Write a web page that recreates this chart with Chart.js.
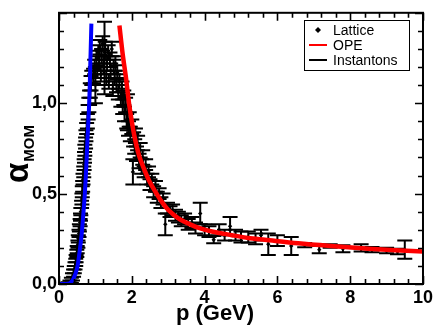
<!DOCTYPE html>
<html><head><meta charset="utf-8">
<script src="https://cdn.jsdelivr.net/npm/chart.js@4.4.0/dist/chart.umd.min.js"></script>
<style>html,body{margin:0;padding:0;background:#fff;}#wrap{width:436px;height:325px;}</style>
</head><body><div id="wrap"><canvas id="c" width="436" height="325"></canvas></div>
<script>
// ---- data ----
const latticeP = [
 0.25,0.30,0.34,0.37,0.40,0.42,0.44,0.46,0.47,0.49,0.50,0.52,0.53,0.55,0.56,0.58,0.59,0.60,0.62,0.63,
 0.64,0.65,0.66,0.68,0.69,0.70,0.71,0.73,0.74,0.76,0.78,0.80,0.82,0.84,0.86,0.88,0.90,
 0.95,0.98,1.00,1.03,1.05,1.08,1.10,1.12,1.15,1.17,1.20,1.22,1.25,1.27,1.30,1.32,1.35,1.37,1.40,1.42,
 1.45,1.48,1.50,1.53,1.55,1.58,1.60,1.63,1.66,1.70,1.73,
 1.75,1.78,1.80,1.83,1.86,1.88,1.91,1.93,1.96,2.00,2.03,2.05,2.08,2.10,2.13,2.16,2.20,2.23,2.27,2.30,
 2.34,2.38,2.42,2.46,2.50,2.55,2.60,2.65,2.70,2.75,2.80,2.86,2.92,2.98,3.05,3.12,3.20,3.28,3.36,3.45,
 3.55,3.65,3.75,3.88,4.00,4.12,4.25,4.40,4.55,4.70,4.85,5.00,5.20,5.40,5.55,5.75,6.00,6.38,6.75,7.15,
 7.45,7.80,8.30,8.60,9.00,9.30,9.50];
const latticeAlpha = [
 0.00,0.01,0.02,0.04,0.06,0.08,0.10,0.12,0.14,0.17,0.19,0.22,0.25,0.28,0.31,0.34,0.37,0.40,0.44,0.47,
 0.51,0.54,0.58,0.62,0.66,0.70,0.74,0.78,0.82,0.86,0.90,0.95,0.99,1.03,1.07,1.11,1.14,
 1.15,1.20,1.10,1.25,1.18,1.28,1.22,1.31,1.16,1.26,1.33,1.20,1.25,1.30,1.14,1.22,1.28,1.12,1.24,1.18,
 1.30,1.08,1.20,1.14,1.22,1.10,1.17,1.06,1.12,1.02,1.08,
 0.98,1.03,0.94,0.99,0.90,0.95,0.86,0.91,0.83,0.87,0.62,0.80,0.76,0.82,0.72,0.78,0.68,0.74,0.65,0.70,
 0.62,0.66,0.58,0.62,0.55,0.58,0.51,0.54,0.48,0.50,0.45,0.47,0.33,0.42,0.40,0.41,0.38,0.37,0.35,0.36,
 0.33,0.34,0.31,0.39,0.30,0.29,0.245,0.30,0.27,0.32,0.27,0.26,0.26,0.25,0.27,0.22,0.24,0.21,0.215,0.19,
 0.21,0.195,0.20,0.19,0.185,0.18,0.19];
const latticeErr = [
 0.01,0.01,0.015,0.02,0.02,0.02,0.02,0.02,0.02,0.02,0.02,0.02,0.02,0.02,0.02,0.02,0.02,0.02,0.02,0.03,
 0.03,0.03,0.03,0.03,0.03,0.03,0.03,0.03,0.03,0.03,0.04,0.04,0.04,0.04,0.04,0.04,0.04,
 0.04,0.04,0.10,0.04,0.04,0.04,0.04,0.04,0.04,0.04,0.04,0.04,0.20,0.04,0.04,0.04,0.04,0.04,0.04,0.04,
 0.04,0.04,0.04,0.04,0.04,0.04,0.04,0.04,0.04,0.04,0.04,
 0.04,0.04,0.04,0.04,0.04,0.10,0.04,0.04,0.04,0.04,0.07,0.04,0.04,0.04,0.04,0.04,0.04,0.04,0.04,0.04,
 0.03,0.03,0.03,0.03,0.03,0.03,0.03,0.03,0.03,0.03,0.03,0.03,0.06,0.03,0.03,0.03,0.03,0.03,0.03,0.03,
 0.03,0.03,0.03,0.06,0.03,0.03,0.02,0.03,0.03,0.05,0.03,0.03,0.03,0.03,0.03,0.06,0.03,0.05,0.012,0.02,
 0.01,0.02,0.02,0.015,0.015,0.015,0.05];
const opeP = [1.66,1.75,1.84,1.93,2.07,2.20,2.35,2.48,2.65,2.84,3.00,3.30,3.60,3.84,4.20,4.75,5.20,5.66,6.57,7.47,8.50,10.0];
const opeAlpha = [1.43,1.27,1.14,0.99,0.82,0.71,0.63,0.57,0.51,0.45,0.41,0.36,0.33,0.31,0.29,0.27,0.255,0.245,0.225,0.21,0.195,0.18];
const instP = [0.00,0.20,0.30,0.40,0.50,0.56,0.62,0.67,0.71,0.75,0.78,0.83,0.86,0.89];
const instAlpha = [0.00,0.00,0.005,0.03,0.09,0.17,0.27,0.39,0.50,0.65,0.79,1.00,1.22,1.44];
const xTickValues = [0,2,4,6,8,10];
const xTickLabels = ['0','2','4','6','8','10'];
const yTickValues = [0,0.5,1.0];
const yTickLabels = ['0,0','0,5','1,0'];
const legendLabels = ['Lattice','OPE','Instantons'];
const xTitle = 'p (GeV)';

const FONT = "'Liberation Sans', Arial, Helvetica, sans-serif";
const toXY = (xs, ys) => xs.map((x,i)=>({x:x, y:ys[i]}));

const errorBars = {
  id:'errorBars',
  beforeDatasetsDraw(chart){
    const {ctx, scales:{x,y}, chartArea:a} = chart;
    ctx.save();
    ctx.beginPath(); ctx.rect(a.left,a.top,a.right-a.left,a.bottom-a.top); ctx.clip();
    ctx.strokeStyle='#000'; ctx.lineWidth=2;
    const cap=7.5;
    latticeP.forEach((p,i)=>{
      const px=x.getPixelForValue(p);
      const y1=y.getPixelForValue(latticeAlpha[i]+latticeErr[i]);
      const y0=y.getPixelForValue(latticeAlpha[i]-latticeErr[i]);
      ctx.beginPath();
      ctx.moveTo(px,y0); ctx.lineTo(px,y1);
      ctx.moveTo(px-cap,y0); ctx.lineTo(px+cap,y0);
      ctx.moveTo(px-cap,y1); ctx.lineTo(px+cap,y1);
      ctx.stroke();
    });
    ctx.restore();
  }
};

const frame = {
  id:'frame',
  afterDraw(chart){
    const {ctx, scales:{x,y}, chartArea:a} = chart;
    ctx.save();
    ctx.strokeStyle='#000'; ctx.lineWidth=2;
    ctx.strokeRect(a.left,a.top,a.right-a.left,a.bottom-a.top);
    ctx.lineWidth=1.6;
    ctx.beginPath();
    for(let v=0; v<=10.001; v+=0.4){
      const px=Math.round(x.getPixelForValue(v))+0.5;
      const major = Math.abs(v/2-Math.round(v/2))<1e-6;
      const L = major?8:5;
      ctx.moveTo(px,a.bottom); ctx.lineTo(px,a.bottom-L);
      ctx.moveTo(px,a.top); ctx.lineTo(px,a.top+L);
    }
    for(let v=0; v<=1.5001; v+=0.1){
      const py=Math.round(y.getPixelForValue(v))+0.5;
      const major = Math.abs(v/0.5-Math.round(v/0.5))<1e-6;
      const L = major?8:5;
      ctx.moveTo(a.left,py); ctx.lineTo(a.left+L,py);
      ctx.moveTo(a.right,py); ctx.lineTo(a.right-L,py);
    }
    ctx.stroke();
    // x axis title
    ctx.fillStyle='#000';
    ctx.font='bold 22px '+FONT; ctx.textAlign='center'; ctx.textBaseline='alphabetic';
    ctx.fillText(xTitle, 215, 320);
    // y axis title: alpha with subscript MOM, rotated
    ctx.rotate(-Math.PI/2);
    ctx.textAlign='left';
    ctx.font='bold 33px '+FONT;
    const aw=ctx.measureText('α').width;
    const startX=-183;
    ctx.fillText('α', startX, 28);
    ctx.font='bold 15px '+FONT;
    ctx.fillText('MOM', startX+aw+1, 34);
    ctx.setTransform(1,0,0,1,0,0);
    // legend
    const bx=304, by=20, bw=105, bh=50;
    ctx.fillStyle='#fff'; ctx.fillRect(bx,by,bw,bh);
    ctx.strokeStyle='#000'; ctx.lineWidth=1; ctx.strokeRect(bx+0.5,by+0.5,bw,bh);
    ctx.font='14px '+FONT; ctx.fillStyle='#000'; ctx.textBaseline='middle';
    const rows=[by+10, by+25, by+40];
    ctx.beginPath(); const dx=318, dy=rows[0];
    ctx.moveTo(dx,dy-3); ctx.lineTo(dx+3,dy); ctx.lineTo(dx,dy+3); ctx.lineTo(dx-3,dy); ctx.closePath(); ctx.fill();
    ctx.lineWidth=2;
    ctx.strokeStyle='#ff0000'; ctx.beginPath(); ctx.moveTo(309,rows[1]); ctx.lineTo(327,rows[1]); ctx.stroke();
    ctx.strokeStyle='#000'; ctx.beginPath(); ctx.moveTo(309,rows[2]); ctx.lineTo(327,rows[2]); ctx.stroke();
    legendLabels.forEach((t,i)=>ctx.fillText(t,333,rows[i]+1));
    ctx.restore();
  }
};

new Chart(document.getElementById('c'), {
  type:'scatter',
  data:{datasets:[
    {label:'Instantons', data:toXY(instP,instAlpha), showLine:true, borderColor:'#0000ff', borderWidth:4, pointRadius:0, fill:false, order:0, tension:0.3},
    {label:'OPE', data:toXY(opeP,opeAlpha), showLine:true, borderColor:'#ff0000', borderWidth:4.5, pointRadius:0, fill:false, order:1, tension:0.3},
    {label:'Lattice', data:toXY(latticeP,latticeAlpha), showLine:false, pointStyle:'rectRot', pointRadius:2.2, backgroundColor:'#000', borderColor:'#000', borderWidth:0, order:2}
  ]},
  options:{
    responsive:false, animation:false, devicePixelRatio:1,
    layout:{padding:{top:1,right:10,left:0,bottom:0}},
    plugins:{legend:{display:false}, tooltip:{enabled:false}},
    scales:{
      x:{type:'linear', position:'bottom', min:0, max:10,
        grid:{display:false, drawTicks:false}, border:{display:false},
        afterBuildTicks:s=>{s.ticks=xTickValues.map(v=>({value:v}));},
        ticks:{font:{family:FONT,size:18,weight:'bold'}, color:'#000', padding:3, maxRotation:0, autoSkip:false,
          callback:(v)=>xTickLabels[xTickValues.indexOf(v)]},
        title:{display:false},
        afterFit:s=>{s.height=41;}
      },
      y:{type:'linear', min:0, max:1.5,
        grid:{display:false, drawTicks:false}, border:{display:false},
        afterBuildTicks:s=>{s.ticks=yTickValues.map(v=>({value:v}));},
        ticks:{font:{family:FONT,size:18,weight:'bold'}, color:'#000', padding:2, autoSkip:false,
          callback:(v)=>yTickLabels[yTickValues.indexOf(v)]},
        afterFit:s=>{s.width=59;}
      }
    }
  },
  plugins:[errorBars, frame]
});
</script></body></html>
